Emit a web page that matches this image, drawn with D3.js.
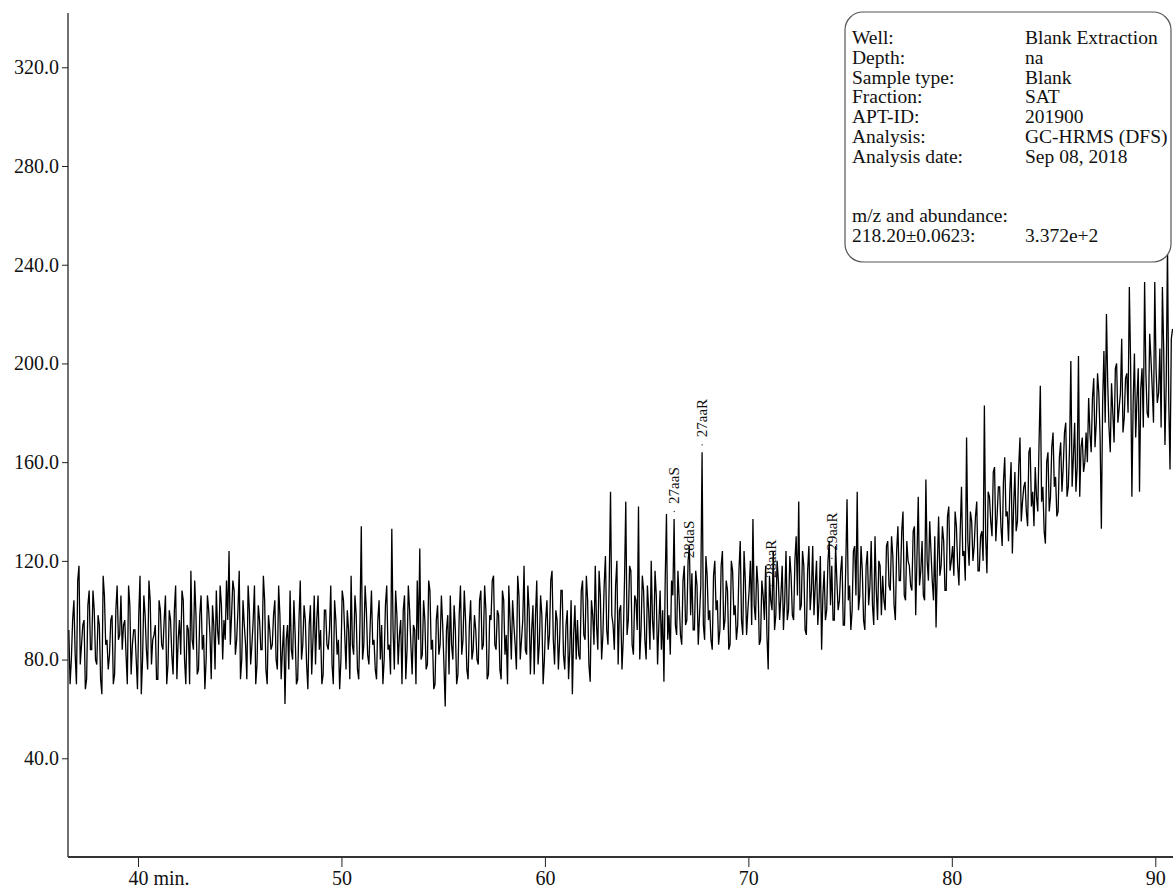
<!DOCTYPE html>
<html>
<head>
<meta charset="utf-8">
<script src="https://cdn.jsdelivr.net/npm/d3@7"></script>
<style>
  html, body { margin: 0; padding: 0; background: #fff; }
  svg { display: block; }
  text { font-family: "Liberation Serif", "Times New Roman", serif; fill: #111; }
</style>
</head>
<body>
<svg id="chart" width="1173" height="891"></svg>
<script>
// ---- data ----
const timeStart = 36.6;      // minutes, first sample
const timeStep = 0.0625;     // minutes between samples
const seg36 = [92,70,80,96,104,82,70,112,118,78,86,94,96,68,72,102,108,84,84,108,100,80,78,98,94,72,66,114,106,86,88,76,82,96,98,70,74,100,110,88,90,106,84,94,96,82,70,110,102,74,86,92,92,80,68,98,114,66,80,106,98,84,76,112,104,78,88,90,94,72,72,104,100,86,84,96,106,70,78,100];
const seg41 = [96,82,74,100,110,72,88,96,82,108,104,80,70,94,92,70,116,88,84,112,98,74,76,98,106,84,90,68,80,106,100,90,72,102,94,76,108,92,86,110,102,80,96,88,112,96,124,86,98,112,108,82,88,100,116,72,80,104,94,86,72,110,100,78,86,96,110,70,78,102,96,84,84,114,104,76,70,98,92,84];
const seg46 = [86,98,104,80,76,110,98,72,84,94,62,88,94,76,108,84,80,104,90,70,72,96,112,80,86,102,96,78,68,94,102,74,88,106,78,96,106,84,92,70,74,100,100,86,84,92,110,78,70,104,96,82,88,68,80,108,104,90,76,100,92,72,114,86,82,106,98,76,72,96,134,80,86,110,100,82,78,94,108,86];
const seg51 = [88,76,72,96,104,80,94,70,80,102,110,84,86,74,133,92,76,108,98,78,90,96,70,100,106,72,84,110,100,86,74,94,92,70,112,88,125,80,82,104,96,76,78,112,108,84,88,68,70,96,102,82,86,106,94,78,61,92,98,74,106,86,80,102,92,70,74,98,110,82,88,108,96,76,72,94,104,80,84,98];
const seg56 = [92,80,78,104,108,84,86,110,100,72,74,98,96,112,114,86,84,100,98,76,72,108,104,82,90,70,110,96,80,104,94,86,76,114,106,80,88,96,118,84,82,110,100,74,92,102,74,98,112,78,86,106,98,70,80,96,104,84,90,112,116,88,78,100,96,76,88,108,108,82,76,94,100,72,84,104,66,90,102,80];
const seg61 = [96,82,80,108,112,90,88,114,104,78,71,104,98,86,118,94,84,116,106,80,90,110,122,92,86,112,148,98,94,84,110,120,78,100,102,76,88,112,144,90,96,118,116,86,82,106,104,92,142,80,92,114,108,88,80,110,100,84,120,96,88,116,106,78,94,108,84,100,71,112,139,88,98,82,112,106,137,94,90,116];
const seg66 = [104,90,86,112,118,94,96,120,126,98,115,92,92,116,110,86,98,110,164,94,88,122,114,96,100,88,84,114,120,100,104,86,92,118,124,92,96,112,108,84,86,120,116,98,102,88,94,116,128,96,90,124,112,90,100,108,120,94,137,102,96,118,110,86,88,112,106,96,118,90,76,114,104,100,124,92,98,120,112,96];
const seg71 = [106,118,92,104,124,96,100,122,114,98,96,120,130,106,144,100,102,124,118,92,90,116,126,100,108,126,98,110,120,94,104,122,84,106,116,96,100,120,128,102,118,96,96,126,112,100,104,116,122,94,94,118,145,104,110,92,100,124,126,106,148,100,106,126,116,96,92,118,124,102,110,128,102,94,130,108,96,120,118,98];
const seg76 = [114,104,100,126,128,110,108,130,122,102,96,124,134,112,112,132,140,106,104,128,120,118,110,108,132,134,98,122,146,110,116,128,106,104,153,120,112,136,124,112,104,130,93,118,138,114,118,134,128,108,108,138,142,116,120,126,114,140,134,118,110,132,150,122,124,112,170,128,118,140,136,120,126,138,144,116,116,130,132,120];
const seg81 = [183,130,115,148,146,136,130,156,158,128,138,150,150,134,126,152,162,138,140,128,148,160,123,142,156,132,136,158,170,136,144,150,152,140,134,164,166,142,148,134,158,146,140,168,191,144,150,132,127,160,164,140,146,166,172,150,154,138,140,162,168,148,158,172,176,146,150,166,201,150,162,176,148,158,203,146,166,170,156,160];
const seg86 = [172,160,186,172,164,186,194,166,176,196,188,170,133,184,205,176,220,192,174,164,192,180,168,198,200,176,182,188,210,172,178,194,196,180,231,200,146,184,204,170,186,198,148,190,198,174,233,196,180,178,212,202,190,176,233,198,184,188,206,174,231,206,167,192,248,184,157,210,214];

const peakNames  = ["27aaS", "28daS", "27aaR", "28aaR", "29aaR"];
const peakTimes  = [66.35, 67.1, 67.725, 71.1, 74.1];
const peakValues = [137, 115, 164, 107, 118];

const xTicks = [40, 50, 60, 70, 80, 90];
const yTicks = [40, 80, 120, 160, 200, 240, 280, 320];

const infoLabels = ["Well:", "Depth:", "Sample type:", "Fraction:", "APT-ID:", "Analysis:", "Analysis date:"];
const infoValues = ["Blank Extraction", "na", "Blank", "SAT", "201900", "GC-HRMS (DFS)", "Sep 08, 2018"];
const mzLabel = "m/z and abundance:";
const mzRow = ["218.20\u00b10.0623:", "3.372e+2"];

(function () {
// ---- build series ----
const abundance = [].concat(seg36, seg41, seg46, seg51, seg56, seg61, seg66, seg71, seg76, seg81, seg86);
const series = abundance.map((v, i) => ({ t: timeStart + i * timeStep, v }));

const svg = d3.select("#chart");
const W = 1173;
const pLeft = 68, pRight = 1174, pTop = 13, pBottom = 857;

const x = d3.scaleLinear().domain([36.56, 90.92]).range([pLeft, pRight]);
const y = d3.scaleLinear().domain([0, 342]).range([pBottom, pTop]);

// clip
svg.append("defs").append("clipPath").attr("id", "plot")
  .append("rect").attr("x", pLeft).attr("y", 0).attr("width", W - pLeft).attr("height", pBottom);

// trace
const line = d3.line().x(d => x(d.t)).y(d => y(d.v));
svg.append("path")
  .datum(series)
  .attr("clip-path", "url(#plot)")
  .attr("fill", "none")
  .attr("stroke", "#000")
  .attr("stroke-width", 1.3)
  .attr("d", line);

// peak labels
const pk = svg.append("g");
peakNames.forEach((name, i) => {
  const px = x(peakTimes[i]), py = y(peakValues[i]);
  pk.append("rect").attr("x", px - 0.5).attr("y", py - 8).attr("width", 1.2).attr("height", 1.2).attr("fill", "#333");
  pk.append("text")
    .attr("transform", `translate(${px + 5},${py - 15}) rotate(-90)`)
    .attr("font-size", 15)
    .attr("text-anchor", "start")
    .text(name);
});

// y axis
const yAxis = d3.axisLeft(y).tickValues(yTicks).tickFormat(d3.format(".1f")).tickSize(6).tickPadding(3);
const gy = svg.append("g").attr("transform", `translate(${pLeft},0)`).call(yAxis);
gy.select(".domain").remove();
gy.selectAll(".tick line").attr("stroke", "#222");
gy.selectAll(".tick text").attr("font-size", 20).attr("font-family", "Liberation Serif, serif").attr("fill", "#111");
svg.append("line").attr("x1", pLeft).attr("x2", pLeft).attr("y1", pTop).attr("y2", pBottom)
  .attr("stroke", "#111").attr("stroke-width", 1.2);

// x axis
const xAxis = d3.axisBottom(x).tickValues(xTicks).tickFormat(d => d === 40 ? "40 min." : String(d)).tickSize(10).tickPadding(4);
const gx = svg.append("g").attr("transform", `translate(0,${pBottom})`).call(xAxis);
gx.select(".domain").remove();
gx.selectAll(".tick line").attr("stroke", "#222");
gx.selectAll(".tick text").attr("font-size", 20).attr("font-family", "Liberation Serif, serif").attr("fill", "#111");
gx.selectAll(".tick").filter(d => d === 40).select("text").attr("text-anchor", "start").attr("dx", -10);
svg.append("line").attr("x1", pLeft).attr("x2", W).attr("y1", pBottom).attr("y2", pBottom)
  .attr("stroke", "#333").attr("stroke-width", 1.8);

// info box
const box = svg.append("g");
box.append("rect").attr("x", 845).attr("y", 12).attr("width", 326).attr("height", 250).attr("rx", 18)
  .attr("fill", "#fff").attr("stroke", "#555").attr("stroke-width", 1.2);
const rowY = i => 44 + i * 19.8;
infoLabels.forEach((lab, i) => {
  box.append("text").attr("x", 852).attr("y", rowY(i)).attr("font-size", 19.5).text(lab);
  box.append("text").attr("x", 1025).attr("y", rowY(i)).attr("font-size", 19.5).text(infoValues[i]);
});
box.append("text").attr("x", 852).attr("y", rowY(9)).attr("font-size", 19.5).text(mzLabel);
box.append("text").attr("x", 852).attr("y", rowY(10)).attr("font-size", 19.5).text(mzRow[0]);
box.append("text").attr("x", 1025).attr("y", rowY(10)).attr("font-size", 19.5).text(mzRow[1]);
})();
</script>
</body>
</html>
